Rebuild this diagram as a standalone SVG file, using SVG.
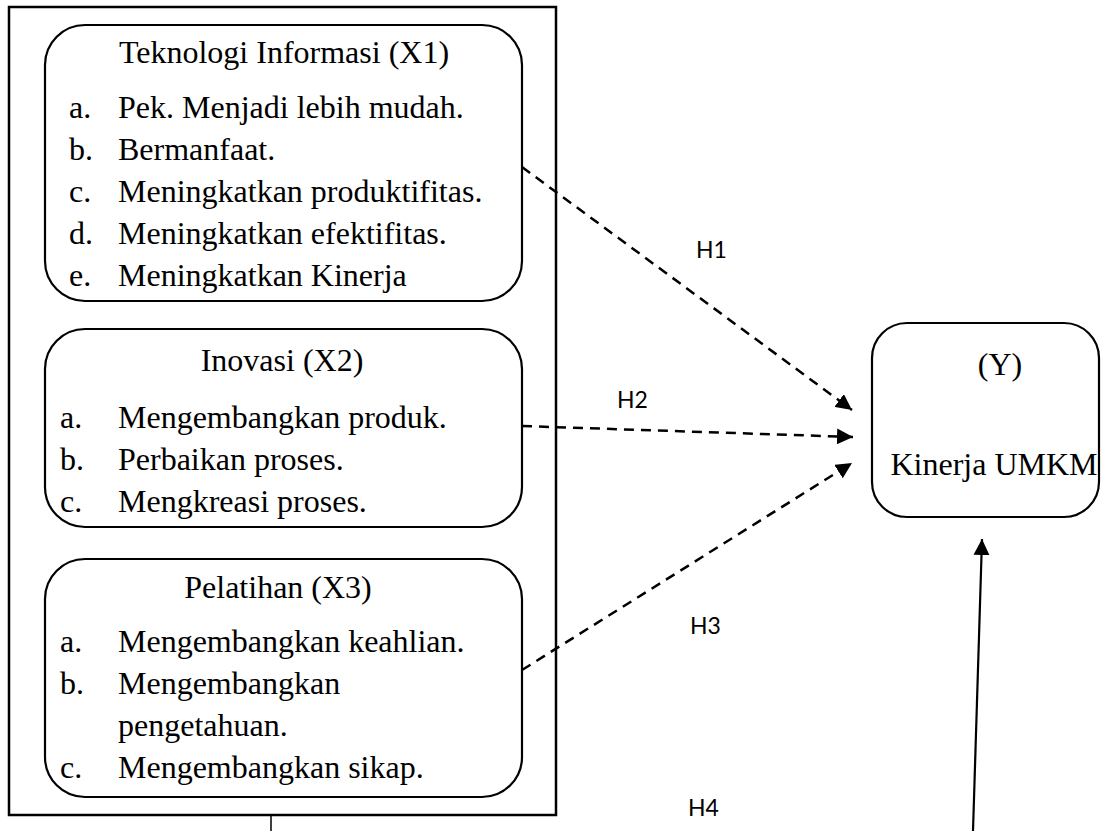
<svg xmlns="http://www.w3.org/2000/svg" width="1101" height="831" viewBox="0 0 1101 831">
  <style>
    .box { fill: #fff; stroke: #000; stroke-width: 2.2; }
    .frame { fill: none; stroke: #000; stroke-width: 2.5; }
    .t { font-family: "Liberation Serif", "Times New Roman", serif; font-size: 32px; fill: #000; }
    .c { text-anchor: middle; }
    .h { font-family: Lato, "Open Sans", "Liberation Sans", sans-serif; font-size: 23px; fill: #000; }
    .dash { fill: none; stroke: #000; stroke-width: 2.5; stroke-dasharray: 10 7; }
    .solid { fill: none; stroke: #000; stroke-width: 2.2; }
  </style>
  <defs>
    <marker id="ah" viewBox="0 0 10 10" refX="10" refY="5" markerWidth="16" markerHeight="16" markerUnits="userSpaceOnUse" orient="auto">
      <path d="M0,0 L10,5 L0,10 Z" fill="#000"/>
    </marker>
  </defs>
  <rect width="1101" height="831" fill="#fff"/>

  <g id="frame">
    <rect class="frame" x="9" y="7" width="547" height="808"/>
  </g>

  <g id="x1">
    <rect class="box" x="45" y="25" width="477" height="276" rx="40" ry="40"/>
    <text class="t c" x="284" y="63">Teknologi Informasi (X1)</text>
    <text class="t" x="69" y="118">a.</text><text class="t" x="118" y="118">Pek. Menjadi lebih mudah.</text>
    <text class="t" x="69" y="160">b.</text><text class="t" x="118" y="160">Bermanfaat.</text>
    <text class="t" x="69" y="202">c.</text><text class="t" x="118" y="202">Meningkatkan produktifitas.</text>
    <text class="t" x="69" y="244">d.</text><text class="t" x="118" y="244">Meningkatkan efektifitas.</text>
    <text class="t" x="69" y="286">e.</text><text class="t" x="118" y="286">Meningkatkan Kinerja</text>
  </g>

  <g id="x2">
    <rect class="box" x="45" y="329" width="477" height="198" rx="40" ry="40"/>
    <text class="t c" x="282" y="371">Inovasi (X2)</text>
    <text class="t" x="60" y="428">a.</text><text class="t" x="118" y="428">Mengembangkan produk.</text>
    <text class="t" x="60" y="470">b.</text><text class="t" x="118" y="470">Perbaikan proses.</text>
    <text class="t" x="60" y="512">c.</text><text class="t" x="118" y="512">Mengkreasi proses.</text>
  </g>

  <g id="x3">
    <rect class="box" x="45" y="559" width="477" height="238" rx="40" ry="40"/>
    <text class="t c" x="278" y="598">Pelatihan (X3)</text>
    <text class="t" x="60" y="652">a.</text><text class="t" x="118" y="652">Mengembangkan keahlian.</text>
    <text class="t" x="60" y="694">b.</text><text class="t" x="118" y="694">Mengembangkan</text>
    <text class="t" x="118" y="736">pengetahuan.</text>
    <text class="t" x="60" y="778">c.</text><text class="t" x="118" y="778">Mengembangkan sikap.</text>
  </g>

  <g id="y">
    <rect class="box" x="872" y="323" width="227" height="194" rx="35" ry="35"/>
    <text class="t c" x="1000" y="375">(Y)</text>
    <text class="t c" x="994" y="475">Kinerja UMKM</text>
  </g>

  <g id="connectors">
    <line class="dash" x1="522" y1="167" x2="852" y2="410" marker-end="url(#ah)"/>
    <line class="dash" x1="522" y1="426" x2="853" y2="437" marker-end="url(#ah)"/>
    <line class="dash" x1="522" y1="670" x2="852" y2="463" marker-end="url(#ah)"/>
    <line class="solid" x1="973" y1="831" x2="982" y2="539" marker-end="url(#ah)"/>
    <line stroke="#000" stroke-width="1.5" x1="271" y1="815" x2="271" y2="831"/>
  </g>

  <g id="labels">
    <text class="h" x="696" y="258">H1</text>
    <text class="h" x="617" y="408">H2</text>
    <text class="h" x="690" y="634">H3</text>
    <text class="h" x="688" y="816">H4</text>
  </g>
</svg>
